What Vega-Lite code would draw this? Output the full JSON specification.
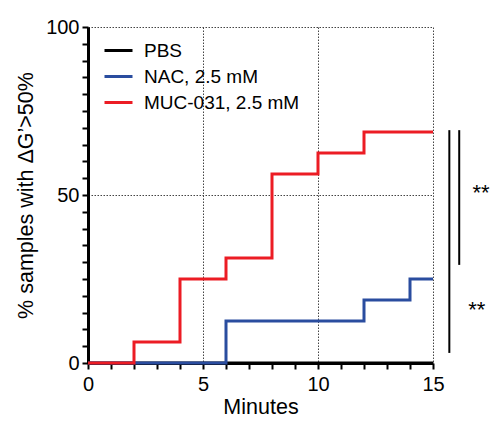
{
  "$schema": "https://vega.github.io/schema/vega-lite/v6.json",
  "width": 345,
  "height": 336,
  "autosize": {"type": "none"},
  "padding": {"left": 88, "top": 27, "right": 64, "bottom": 60},
  "background": "white",
  "config": {
    "view": {"stroke": null},
    "font": "Liberation Sans",
    "axis": {
      "domainColor": "black",
      "domainWidth": 3,
      "ticks": true,
      "tickColor": "black",
      "tickWidth": 2,
      "tickSize": 6,
      "labelColor": "black",
      "labelFontSize": 20,
      "labelOverlap": false,
      "labelFlush": false,
      "titleFontSize": 21.5,
      "titleFontWeight": "normal",
      "titleColor": "black",
      "gridColor": "#444",
      "gridDash": [1.5, 1.5],
      "gridWidth": 1
    }
  },
  "layer": [
    {
      "data": {
        "values": [
          {"series": "PBS", "minutes": 0, "pct": 0},
          {"series": "PBS", "minutes": 15, "pct": 0},
          {"series": "NAC, 2.5 mM", "minutes": 0, "pct": 0},
          {"series": "NAC, 2.5 mM", "minutes": 6, "pct": 12.5},
          {"series": "NAC, 2.5 mM", "minutes": 12, "pct": 18.75},
          {"series": "NAC, 2.5 mM", "minutes": 14, "pct": 25},
          {"series": "NAC, 2.5 mM", "minutes": 15, "pct": 25},
          {"series": "MUC-031, 2.5 mM", "minutes": 0, "pct": 0},
          {"series": "MUC-031, 2.5 mM", "minutes": 2, "pct": 6.25},
          {"series": "MUC-031, 2.5 mM", "minutes": 4, "pct": 25},
          {"series": "MUC-031, 2.5 mM", "minutes": 6, "pct": 31.25},
          {"series": "MUC-031, 2.5 mM", "minutes": 8, "pct": 56.25},
          {"series": "MUC-031, 2.5 mM", "minutes": 10, "pct": 62.5},
          {"series": "MUC-031, 2.5 mM", "minutes": 12, "pct": 68.75},
          {"series": "MUC-031, 2.5 mM", "minutes": 15, "pct": 68.75}
        ]
      },
      "mark": {"type": "line", "interpolate": "step-after", "strokeWidth": 3, "clip": false},
      "encoding": {
        "x": {
          "field": "minutes", "type": "quantitative",
          "scale": {"domain": [0, 15], "nice": false},
          "axis": {
            "title": "Minutes",
            "tickCount": 15,
            "labelExpr": "datum.value % 5 === 0 ? datum.label : ''",
            "labelPadding": 5,
            "titlePadding": 2,
            "grid": true,
            "gridOpacity": {"condition": {"test": "datum.value % 5 === 0 && datum.value > 0", "value": 1}, "value": 0}
          }
        },
        "y": {
          "field": "pct", "type": "quantitative",
          "scale": {"domain": [0, 100], "nice": false},
          "axis": {
            "title": "% samples with ΔG’>50%",
            "tickCount": 20,
            "labelExpr": "datum.value % 50 === 0 ? datum.label : ''",
            "labelPadding": 3,
            "titlePadding": 8,
            "grid": true,
            "gridOpacity": {"condition": {"test": "datum.value % 50 === 0 && datum.value > 0", "value": 1}, "value": 0}
          }
        },
        "color": {
          "field": "series", "type": "nominal",
          "sort": ["PBS", "NAC, 2.5 mM", "MUC-031, 2.5 mM"],
          "scale": {"domain": ["PBS", "NAC, 2.5 mM", "MUC-031, 2.5 mM"], "range": ["#000000", "#2a4d9f", "#ec1c24"]},
          "legend": {
            "title": null,
            "orient": "none",
            "legendX": 15,
            "legendY": 8,
            "symbolType": "stroke",
            "symbolSize": 784,
            "symbolStrokeWidth": 3,
            "labelFontSize": 19,
            "labelColor": "black",
            "rowPadding": 0,
            "labelOffset": 10
          }
        }
      }
    },
    {
      "data": {
        "values": [
          {"x": 15.71, "y": 3, "y2": 69.3},
          {"x": 16.14, "y": 29.2, "y2": 69.3}
        ]
      },
      "mark": {"type": "rule", "color": "black", "strokeWidth": 2, "clip": false},
      "encoding": {
        "x": {"field": "x", "type": "quantitative"},
        "y": {"field": "y", "type": "quantitative"},
        "y2": {"field": "y2"}
      }
    },
    {
      "data": {
        "values": [
          {"x": 17.09, "y": 50.6, "label": "**"},
          {"x": 16.9, "y": 15.8, "label": "**"}
        ]
      },
      "mark": {"type": "text", "fontSize": 22, "color": "black", "clip": false, "baseline": "middle", "align": "center"},
      "encoding": {
        "x": {"field": "x", "type": "quantitative"},
        "y": {"field": "y", "type": "quantitative"},
        "text": {"field": "label"}
      }
    }
  ]
}
